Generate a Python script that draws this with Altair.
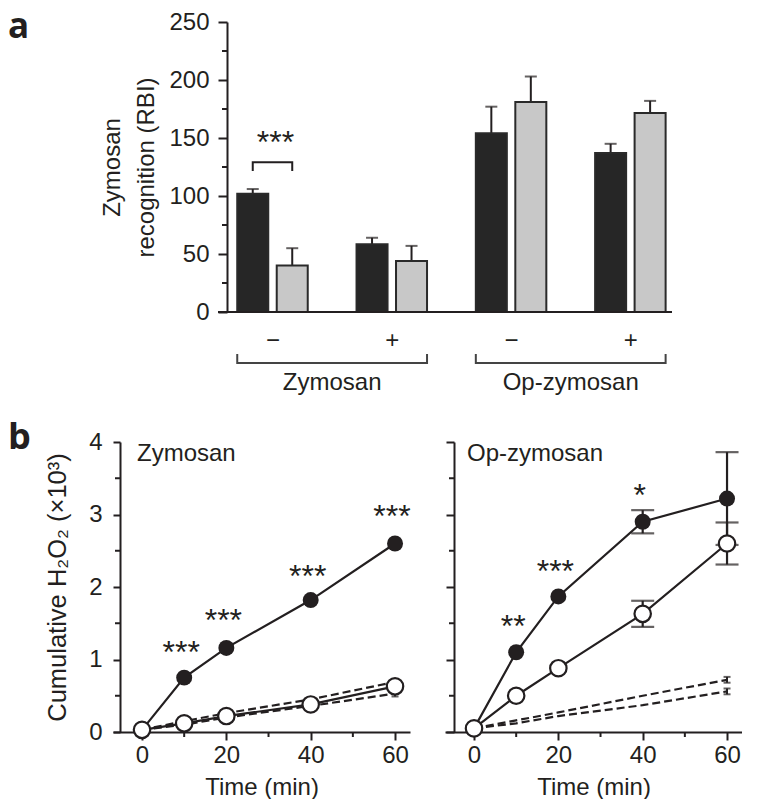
import json
import altair as alt
import pandas as pd

FONT = "Liberation Sans"
BOLD_FONT = "Open Sans"
INK = "#231f20"

# ---------------- panel a : bar chart ----------------
treatments = ["Zymosan", "Zymosan", "Op-zymosan", "Op-zymosan"]
signs = ["\u2212", "+", "\u2212", "+"]
dark_values = [102, 58.5, 154, 137]
dark_errors = [4, 5.5, 23, 8]
light_values = [40, 44, 181, 171.5]
light_errors = [15, 13, 22, 10.5]
a_major = [0, 50, 100, 150, 200, 250]
a_minor = [25, 75, 125, 175, 225]
sig_a_label = "***"
sig_a_text_y = 147
sig_a_bracket_y = [121.5, 129]

# ---------------- panel b : time courses ----------------
times = [0, 10, 20, 40, 60]
b_x_major = [0, 20, 40, 60]
b_x_minor = [10, 30, 50]
b_y_major = [0, 1, 2, 3, 4]
b_y_minor = [0.5, 1.5, 2.5, 3.5]

zym_filled = [0.03, 0.75, 1.16, 1.82, 2.60]
zym_filled_err = [0, 0, 0, 0, 0]
zym_open = [0.03, 0.12, 0.22, 0.38, 0.63]
zym_open_err = [0, 0, 0, 0, 0]
zym_dash_hi = [0.03, 0.15, 0.26, 0.45, 0.69]
zym_dash_lo = [0.03, 0.10, 0.20, 0.36, 0.53]
zym_dash_err = [0, 0, 0, 0, 0.04]
zym_star_t = [10, 20, 40, 60]
zym_star_y = [1.12, 1.56, 2.17, 3.0]
zym_star_lbl = ["***", "***", "***", "***"]

op_filled = [0.05, 1.10, 1.87, 2.90, 3.22]
op_filled_err = [0, 0, 0, 0.16, 0.64]
op_open = [0.05, 0.50, 0.88, 1.63, 2.60]
op_open_err = [0, 0, 0, 0.18, 0.29]
op_dash_hi = [0.05, 0.16, 0.27, 0.50, 0.72]
op_dash_lo = [0.05, 0.12, 0.22, 0.37, 0.56]
op_dash_err = [0, 0, 0, 0, 0.04]
op_star_t = [10, 20, 40]
op_star_y = [1.47, 2.23, 3.28]
op_star_lbl = ["**", "***", "*"]

# ---------------- layout constants ----------------
OFF = 0.1655   # distance of each bar centre from its group centre (group units)
HALF = 0.130   # half bar width (group units)
A_W, A_H = 559, 290
B_W, B_H = 297, 290
A_YAX = 114    # y-axis position inside the panel-a plot box (px)
STAR_DY = 12


# ======== panel a ========
rows = []
for i in range(len(signs)):
    rows.append({"g": i, "s": "dark", "v": dark_values[i], "e": dark_errors[i]})
    rows.append({"g": i, "s": "light", "v": light_values[i], "e": light_errors[i]})
dfa = pd.DataFrame(rows)

xa = alt.Scale(domain=[-1.337, 3.349], nice=False, zero=False)
ya = alt.Scale(domain=[0, 250], nice=False, zero=True)
xaxis_a = alt.Axis(values=list(range(len(signs))),
                   labelExpr=f"{json.dumps(signs)}[datum.value]",
                   domain=False, ticks=False, tickSize=0, grid=False,
                   labelPadding=16, labelFontSize=24, title=None)
yaxis_a = alt.Axis(values=a_major, labelOverlap=False, offset=-A_YAX, tickSize=9,
                   labelPadding=9, title=["Zymosan", "recognition (RBI)"],
                   titleLineHeight=34, titlePadding=10)


def AX(f):
    return alt.X(f, scale=xa, axis=xaxis_a)


def AY(f):
    return alt.Y(f, scale=ya, axis=yaxis_a)


basea = alt.Chart(dfa).transform_calculate(
    xc=f"datum.g + (datum.s == 'dark' ? -{OFF} : {OFF})"
).transform_calculate(
    x1=f"datum.xc - {HALF}", x2=f"datum.xc + {HALF}", top="datum.v + datum.e", z="0"
)

bars = basea.mark_bar(stroke="#2a2a2a", strokeWidth=2).encode(
    x=AX("x1:Q"), x2="x2:Q", y=AY("v:Q"), y2="z:Q",
    fill=alt.Fill("s:N", scale=alt.Scale(domain=["dark", "light"], range=["#262626", "#c8c8c8"]),
                  legend=None),
)
err_line = basea.mark_rule(color=INK, strokeWidth=2).encode(x=AX("xc:Q"), y=AY("v:Q"), y2="top:Q")
err_cap = basea.mark_tick(orient="horizontal", size=12, thickness=2, color=INK).encode(
    x=AX("xc:Q"), y=AY("top:Q"))

axis_line = alt.Chart(dfa).mark_rule(color=INK, strokeWidth=2).encode(
    x=alt.value(105), x2=alt.value(A_W), y=alt.value(A_H))
minor_a = alt.Chart(pd.DataFrame({"v": a_minor})).mark_rule(color=INK, strokeWidth=2).encode(
    y=AY("v:Q"), x=alt.value(A_YAX - 5), x2=alt.value(A_YAX))

sig_df = pd.DataFrame({"k": [0, 1, 2, 3],
                       "side": [-1, -1, 1, 1],
                       "y": [sig_a_bracket_y[0], sig_a_bracket_y[1], sig_a_bracket_y[1], sig_a_bracket_y[0]]})
sig_line = alt.Chart(sig_df).transform_calculate(x=f"datum.side * {OFF}").mark_line(
    color=INK, strokeWidth=2).encode(x=AX("x:Q"), y=AY("y:Q"), order="k:Q")
sig_text = alt.Chart(pd.DataFrame({"g": [0], "y": [sig_a_text_y], "t": [sig_a_label]})).mark_text(
    font=FONT, fontSize=32, color=INK, dy=STAR_DY, dx=3, baseline="alphabetic").encode(
    x=AX("g:Q"), y=AY("y:Q"), text="t:N")

grp_names = list(dict.fromkeys(treatments))
grp_df = pd.DataFrame({
    "label": grp_names,
    "first": [treatments.index(n) for n in grp_names],
    "last": [len(treatments) - 1 - treatments[::-1].index(n) for n in grp_names],
})
grp_base = alt.Chart(grp_df).transform_calculate(
    xs=f"datum.first - {OFF} - {HALF}", xe=f"datum.last + {OFF} + {HALF}",
    xm="(datum.first + datum.last) / 2")
grp_h = grp_base.mark_rule(color="#444", strokeWidth=2).encode(
    x=AX("xs:Q"), x2="xe:Q", y=alt.value(A_H + 51))
grp_l = grp_base.mark_rule(color="#444", strokeWidth=2).encode(
    x=AX("xs:Q"), y=alt.value(A_H + 42), y2=alt.value(A_H + 52))
grp_r = grp_base.mark_rule(color="#444", strokeWidth=2).encode(
    x=AX("xe:Q"), y=alt.value(A_H + 42), y2=alt.value(A_H + 52))
grp_t = grp_base.mark_text(font=FONT, fontSize=24, color=INK, baseline="alphabetic").encode(
    x=AX("xm:Q"), y=alt.value(A_H + 78), text="label:N")

label_a = alt.Chart(pd.DataFrame({"t": ["a"]})).mark_text(
    font=BOLD_FONT, fontWeight="bold", fontSize=35, color=INK, align="left", baseline="top").encode(
    x=alt.value(-105), y=alt.value(-12), text="t:N")

top = alt.layer(err_line, err_cap, bars, axis_line, minor_a, sig_line, sig_text,
                grp_h, grp_l, grp_r, grp_t, label_a).properties(width=A_W, height=A_H)


# ======== panel b ========
def panel_b(title, filled, filled_err, open_, open_err, dash_hi, dash_lo, dash_err,
            star_t, star_y, star_lbl, first, y_ax, title_x):
    n = len(times)
    df = pd.DataFrame({
        "t": times * 4,
        "v": filled + open_ + dash_hi + dash_lo,
        "e": filled_err + open_err + dash_err + dash_err,
        "s": ["filled"] * n + ["open"] * n + ["dash_hi"] * n + ["dash_lo"] * n,
    })
    xs = alt.Scale(domain=[-6.88, 63.55], nice=False, zero=False)
    ys = alt.Scale(domain=[0, 4], nice=False, zero=True)
    xaxis = alt.Axis(values=b_x_major, labelOverlap=False, tickSize=8,
                     labelPadding=3, title="Time (min)", titlePadding=8)
    if first:
        yaxis = alt.Axis(values=b_y_major, labelOverlap=False, offset=-y_ax, tickSize=7,
                         labelPadding=11, title="Cumulative H\u2082O\u2082 (\u00d710\u00b3)",
                         titleFontSize=25.5, titlePadding=18)
    else:
        yaxis = alt.Axis(values=b_y_major, labels=False, offset=-y_ax, tickSize=8, title=None)

    def X(f):
        return alt.X(f, scale=xs, axis=xaxis)

    def Y(f):
        return alt.Y(f, scale=ys, axis=yaxis)

    base = alt.Chart(df).transform_calculate(lo="datum.v - datum.e", hi="datum.v + datum.e")

    dashed = base.transform_filter("indexof(datum.s, 'dash') === 0").mark_line(
        color=INK, strokeWidth=2.2, strokeDash=[8, 4]).encode(x=X("t:Q"), y=Y("v:Q"), detail="s:N")
    dsel = base.transform_filter("indexof(datum.s, 'dash') === 0 && datum.e > 0")
    dash_bar = dsel.mark_rule(color=INK, strokeWidth=2).encode(x=X("t:Q"), y=Y("lo:Q"), y2="hi:Q")
    dash_cap_hi = dsel.mark_tick(orient="horizontal", size=7, thickness=2, color=INK).encode(
        x=X("t:Q"), y=Y("hi:Q"))
    dash_cap_lo = dsel.mark_tick(orient="horizontal", size=7, thickness=2, color=INK).encode(
        x=X("t:Q"), y=Y("lo:Q"))
    sol = base.transform_filter("indexof(datum.s, 'dash') !== 0")
    esel = sol.transform_filter("datum.e > 0")
    err_bar = esel.mark_rule(color=INK, strokeWidth=2.2).encode(x=X("t:Q"), y=Y("lo:Q"), y2="hi:Q")
    cap_hi = esel.mark_tick(orient="horizontal", size=23, thickness=2.2, color=INK).encode(
        x=X("t:Q"), y=Y("hi:Q"))
    cap_lo = esel.mark_tick(orient="horizontal", size=23, thickness=2.2, color=INK).encode(
        x=X("t:Q"), y=Y("lo:Q"))
    solid = sol.mark_line(color=INK, strokeWidth=2.2).encode(x=X("t:Q"), y=Y("v:Q"), detail="s:N")
    pts_f = sol.transform_filter("datum.s === 'filled'").mark_point(
        shape="circle", filled=True, color=INK, size=255, opacity=1).encode(x=X("t:Q"), y=Y("v:Q"))
    pts_o = sol.transform_filter("datum.s === 'open'").mark_point(
        shape="circle", filled=True, fill="white", stroke=INK, strokeWidth=2.2, size=270,
        opacity=1).encode(x=X("t:Q"), y=Y("v:Q"))
    stars = alt.Chart(pd.DataFrame({"t": star_t, "y": star_y, "l": star_lbl})).mark_text(
        font=FONT, fontSize=32, color=INK, dy=STAR_DY, dx=-3, baseline="alphabetic").encode(
        x=X("t:Q"), y=Y("y:Q"), text="l:N")
    ttl = alt.Chart(pd.DataFrame({"l": [title]})).mark_text(
        font=FONT, fontSize=24, color=INK, align="left", baseline="alphabetic").encode(
        x=alt.value(title_x), y=alt.value(19), text="l:N")
    minor_y = alt.Chart(pd.DataFrame({"v": b_y_minor})).mark_rule(color=INK, strokeWidth=2).encode(
        y=Y("v:Q"), x=alt.value(y_ax - 5), x2=alt.value(y_ax))
    minor_x = alt.Chart(pd.DataFrame({"t": b_x_minor})).mark_rule(color=INK, strokeWidth=2).encode(
        x=X("t:Q"), y=alt.value(B_H), y2=alt.value(B_H + 5))
    layers = [dashed, dash_bar, dash_cap_hi, dash_cap_lo, err_bar, cap_hi, cap_lo, solid,
              pts_f, pts_o, stars, ttl, minor_y, minor_x]
    if first:
        layers.append(alt.Chart(pd.DataFrame({"l": ["b"]})).mark_text(
            font=BOLD_FONT, fontWeight="bold", fontSize=36, color=INK, align="left",
            baseline="top").encode(x=alt.value(-105), y=alt.value(-21), text="l:N"))
    return alt.layer(*layers).properties(width=B_W, height=B_H)


bl = panel_b("Zymosan", zym_filled, zym_filled_err, zym_open, zym_open_err, zym_dash_hi,
             zym_dash_lo, zym_dash_err, zym_star_t, zym_star_y, zym_star_lbl, True, 7, 24)
br = panel_b("Op-zymosan", op_filled, op_filled_err, op_open, op_open_err, op_dash_hi,
             op_dash_lo, op_dash_err, op_star_t, op_star_y, op_star_lbl, False, 9, 22)

bottom = alt.hconcat(bl, br, spacing=35, bounds="flush")

chart = alt.vconcat(top, bottom, spacing=130, bounds="flush").properties(
    padding={"top": 2, "left": 0, "right": 0, "bottom": 0}, background="white"
).configure_view(stroke=None).configure_axis(
    domainColor=INK, domainWidth=2, tickColor=INK, tickWidth=2, grid=False,
    labelColor=INK, labelFont=FONT, labelFontSize=24,
    titleColor=INK, titleFont=FONT, titleFontSize=24, titleFontWeight="normal",
)

chart.save("out.html", embed_options={"renderer": "svg", "actions": False})
